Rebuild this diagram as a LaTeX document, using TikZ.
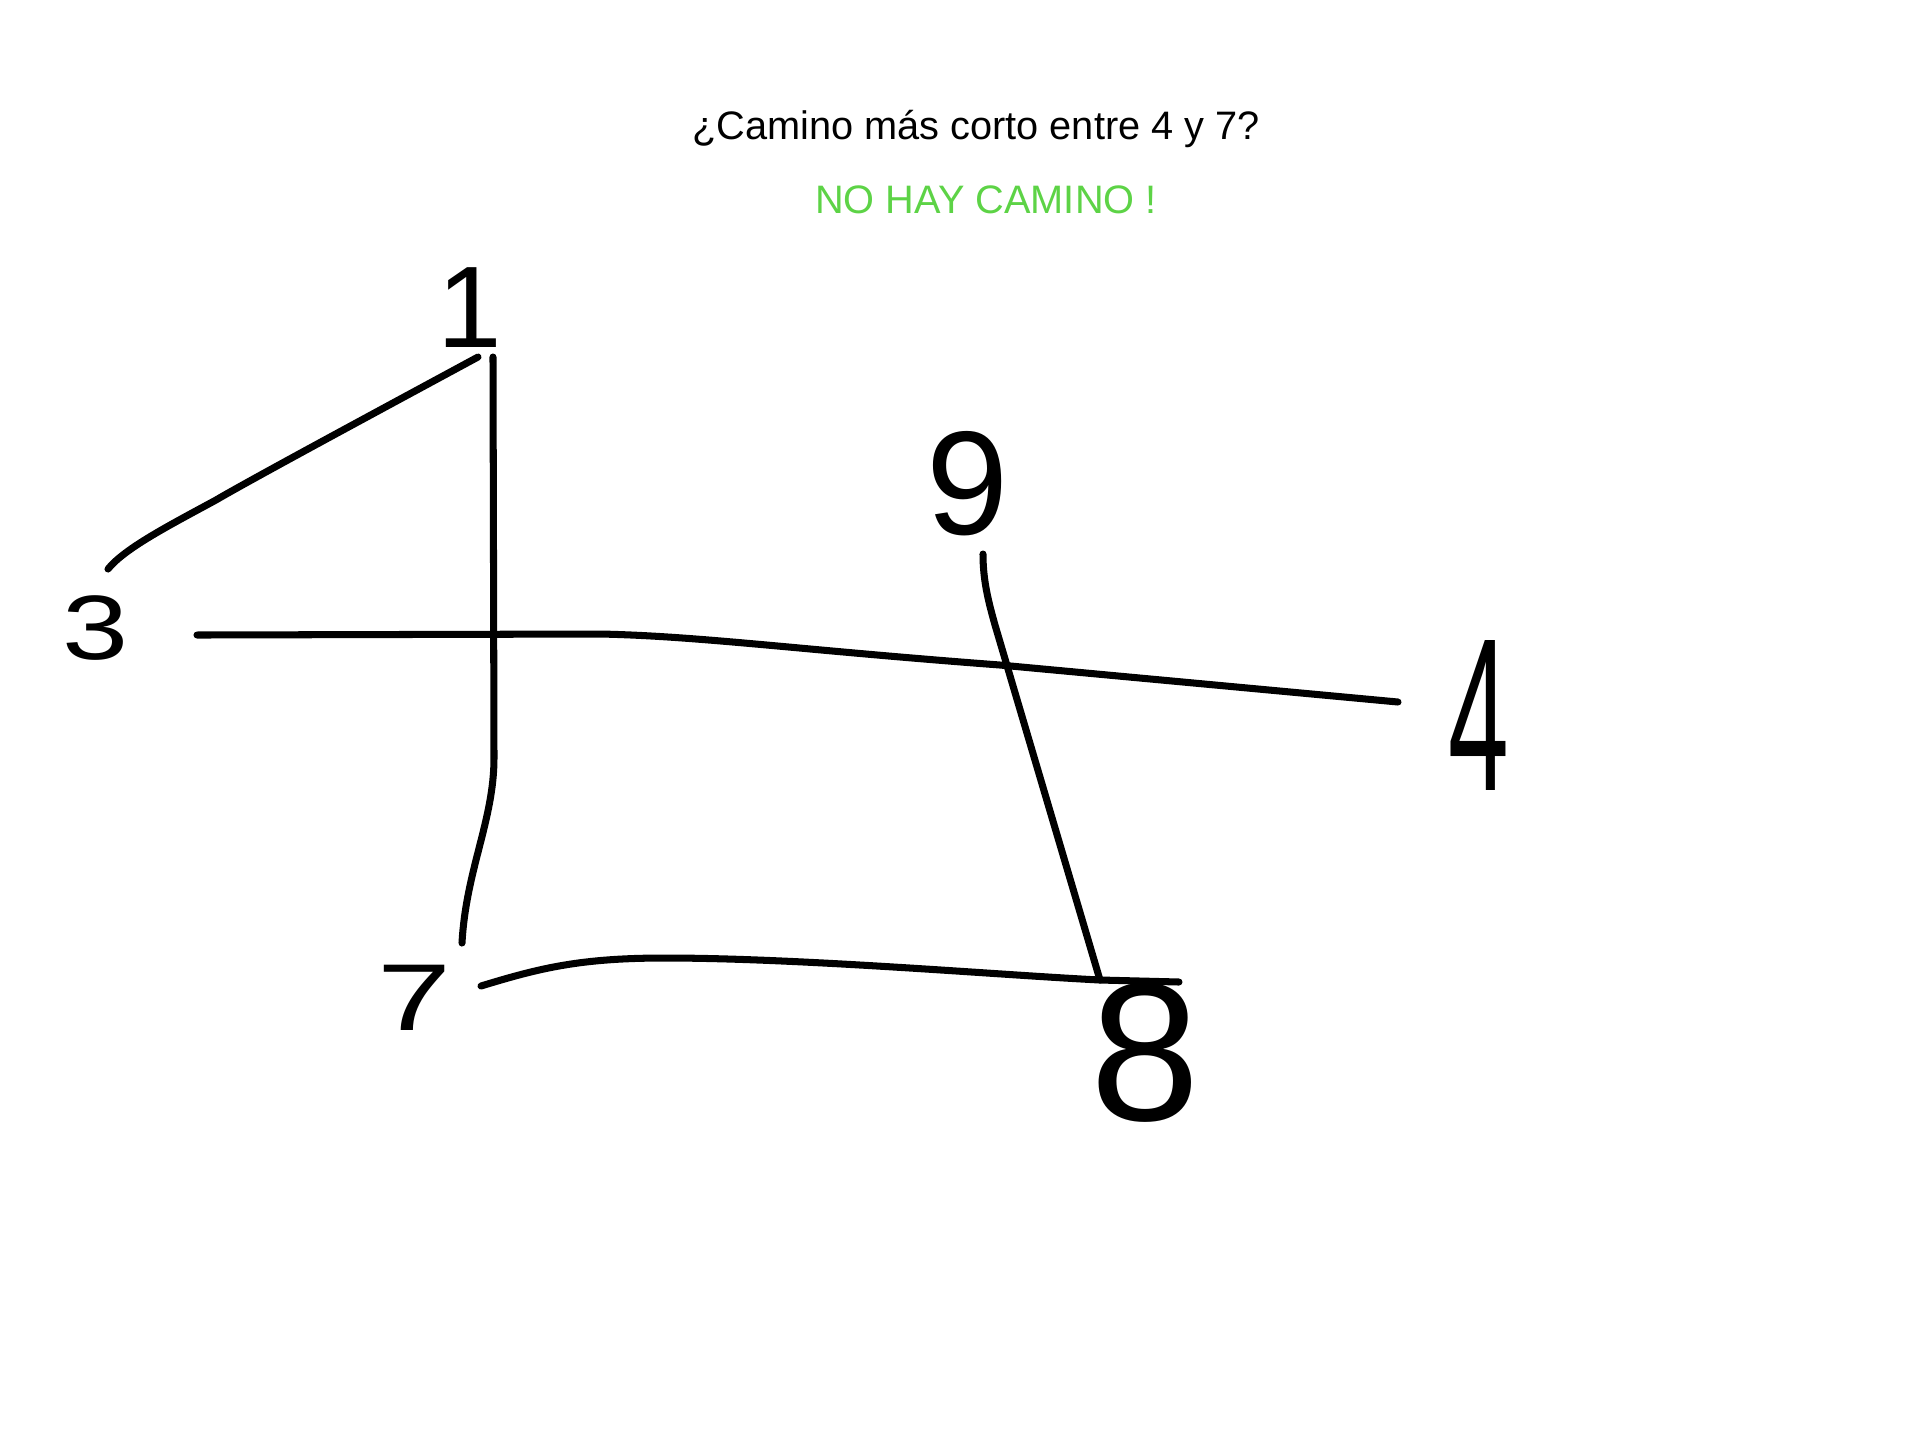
\documentclass[tikz,border=0pt]{standalone}
\usepackage{fontspec}
\setmainfont{Liberation Sans}
\usepackage{graphicx}
\usepackage{tikz}
\usetikzlibrary{
  positioning,
  calc
}
\definecolor{gpInk}{HTML}{000000}
\definecolor{gpGreen}{HTML}{5DD346}
\tikzset{
  vnum/.style={
    inner sep=0pt, text=gpInk, font=\fontsize{#1}{#1}\selectfont
  },
  edge/.style={line width=2pt, line cap=round, line join=round, gpInk},
  title/.style={anchor=base, inner sep=0pt, font=\fontsize{11.3pt}{13pt}\selectfont},
  answer/.style={title, text=gpGreen}
}

\begin{document}
\begin{tikzpicture}[x=0.01cm, y=-0.01cm]
  \useasboundingbox (0,0) rectangle (1932,1438);
  \node[title] (question) at (976,139) {¿Camino más corto entre 4 y 7?};
  \node[answer] (nopath) at (986,213) {NO HAY CAMINO !};

  \node[vnum=33pt] (v1) at (470,308) {1};
  \node[vnum=26pt] (v3) at (96,628) {\scalebox{1.3}[1]{3}};
  \node[vnum=42pt] (v9) at (968,484) {9};
  \node[vnum=62pt] (v4) at (1479,715) {\scalebox{0.5}[1]{4}};
  \node[vnum=27pt] (v7) at (414,998) {\scalebox{1.4}[1]{7}};
  \node[vnum=56pt] (v8) at (1145,1053) {8};

  \coordinate (v1w) at (478,357);
  \coordinate (v1s) at (493,357);
  \coordinate (v3n) at (108,569);
  \coordinate (v3e) at (197,635);
  \coordinate (v4w) at (1398,702);
  \coordinate (v7n) at (462,943);
  \coordinate (v7e) at (481,986);
  \coordinate (v9s) at (983,554);
  \coordinate (v8n) at (1100,980);
  \coordinate (v8e) at (1179,982);

  \draw[edge] (v1w) .. controls (380,410) and (250,480) .. (216,500)
    .. controls (170,525) and (125,548) .. (v3n);
  \draw[edge] (v1s) -- (494,758) .. controls (494,820) and (466,870) .. (v7n);
  \draw[edge] (v3e) -- (600,634) .. controls (700,636) and (800,650) .. (1000,665) -- (v4w);
  \draw[edge] (v9s) .. controls (983,580) and (988,600) .. (995,625) -- (v8n);
  \draw[edge] (v7e) .. controls (540,968) and (580,958) .. (665,958)
    .. controls (800,958) and (1000,975) .. (v8n) -- (v8e);
\end{tikzpicture}
\end{document}
